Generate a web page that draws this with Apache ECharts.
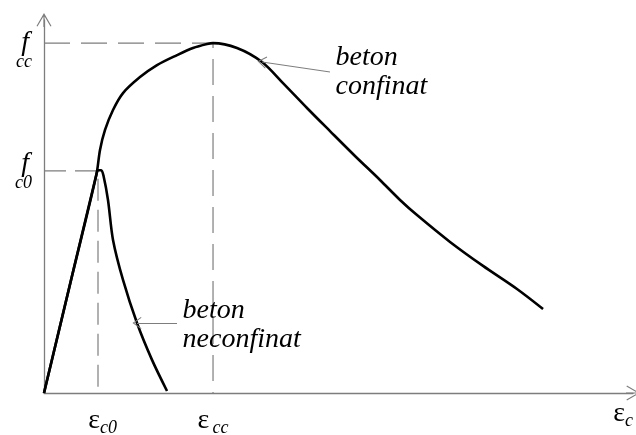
<!DOCTYPE html>
<html>
<head>
<meta charset="utf-8">
<script src="https://cdn.jsdelivr.net/npm/echarts@6/dist/echarts.min.js"></script>
<style>
  html, body { margin: 0; padding: 0; background: #ffffff; }
  #chart { width: 636px; height: 435px; }
</style>
</head>
<body>
<div id="chart"></div>
<script>
// Stress–strain curves of confined and unconfined concrete.
// Strain in units of eps_c0, stress in units of f_c0.
const epsC0 = 1.0;
const epsCC = 3.13;
const fC0 = 1.0;
const fCC = 1.575;
const strainMax = 10.907;
const stressMax = 1.679;

// confined concrete ("beton confinat")
const confinedStrain = [0, 0.502, 0.969, 1.037, 1.130, 1.278, 1.463, 1.778, 2.093, 2.463, 2.759, 3.019, 3.130,
  3.574, 4.037, 4.426, 4.870, 5.296, 5.759, 6.222, 6.593, 6.907, 7.519, 8.130, 8.759, 9.241];
const confinedStress = [0, 0.509, 0.981, 1.094, 1.184, 1.274, 1.350, 1.422, 1.476, 1.521, 1.553, 1.571, 1.575,
  1.553, 1.490, 1.395, 1.283, 1.179, 1.067, 0.959, 0.869, 0.801, 0.680, 0.572, 0.468, 0.378];

// unconfined concrete ("beton neconfinat")
const unconfinedStrain = [0, 0.981, 1.0, 1.06, 1.10, 1.185, 1.278, 1.463, 1.722, 2.0, 2.278];
const unconfinedStress = [0, 0.995, 1.003, 1.003, 0.98, 0.869, 0.689, 0.509, 0.315, 0.149, 0.009];

// axis labels
const strainTicks = [epsC0, epsCC];
const strainTickLabels = ['{E|ε}{s|c0}', '{e|ε} {s|cc}'];
const stressTicks = [fC0, fCC];
const stressTickLabels = ['{f|f}\n{s|c0}', '{g| }\n{f|f}\n{s|cc}'];
const strainAxisName = '{e|ε}{s|c}';

// curve captions: [text, text position, arrow tail, arrow tip on the curve]
const confinedCaption = ['beton\nconfinat', [5.389, 1.445], [5.296, 1.445], [4.037, 1.490]];
const unconfinedCaption = ['beton\nneconfinat', [2.556, 0.306], [2.463, 0.315], [1.722, 0.315]];

const zip = (xs, ys) => xs.map((x, i) => [x, ys[i]]);

const axisGray = '#7d7d7d';
const serif = '"Liberation Serif", "DejaVu Serif", serif';
// open arrowhead with a central stem, tip at the top
const axisArrow = 'path://M7.5,0 L15,13 L14,13.6 L8.1,3.4 L8.1,14 L6.9,14 L6.9,3.4 L1,13.6 L0,13 Z';
const openArrow = 'path://M6,0 L12,9 L11.2,9.6 L6,1.8 L0.8,9.6 L0,9 Z';

const richX = {
  e: { fontFamily: serif, fontSize: 28, color: '#000', lineHeight: 30 },
  E: { fontFamily: serif, fontSize: 28, color: '#000', lineHeight: 30, padding: [0, 0, 0, 9] },
  s: { fontFamily: serif, fontStyle: 'italic', fontSize: 18, color: '#000', lineHeight: 30, padding: [14, 0, 0, 0] }
};
const richY = {
  f: { fontFamily: serif, fontStyle: 'italic', fontSize: 28, color: '#000', lineHeight: 24, padding: [0, 3, 0, 0] },
  g: { fontFamily: serif, fontSize: 10, lineHeight: 14 },
  s: { fontFamily: serif, fontStyle: 'italic', fontSize: 18, color: '#000', lineHeight: 14 }
};

function caption(c) {
  return {
    silent: true,
    symbol: 'circle',
    symbolSize: 1,
    itemStyle: { color: 'rgba(0,0,0,0)' },
    label: {
      show: true,
      position: 'right',
      distance: 0,
      formatter: c[0],
      fontFamily: serif,
      fontStyle: 'italic',
      fontSize: 28,
      lineHeight: 29,
      color: '#000',
      align: 'left'
    },
    data: [{ coord: c[1] }]
  };
}
function pointer(c) {
  return {
    silent: true,
    symbol: ['none', openArrow],
    symbolSize: [12, 9],
    lineStyle: { color: axisGray, width: 1, type: 'solid' },
    label: { show: false },
    data: [[{ coord: c[2] }, { coord: c[3] }]]
  };
}

const chart = echarts.init(document.getElementById('chart'), null, { renderer: 'canvas' });
chart.setOption({
  animation: false,
  backgroundColor: '#ffffff',
  grid: { left: 44, right: 3, top: 20, bottom: 42, containLabel: false, outerBoundsMode: 'none' },
  xAxis: {
    type: 'value',
    min: 0,
    max: strainMax,
    splitLine: { show: false },
    axisTick: { show: false },
    axisLine: {
      lineStyle: { color: axisGray, width: 1.3 },
      symbol: ['none', axisArrow],
      symbolSize: [15, 14]
    },
    axisLabel: {
      customValues: strainTicks,
      margin: 13,
      formatter: v => strainTickLabels[strainTicks.indexOf(v)] || '',
      rich: richX
    },
    name: strainAxisName,
    nameLocation: 'end',
    nameGap: 0,
    nameTextStyle: { align: 'right', verticalAlign: 'top', padding: [6, 0, 0, 0], rich: richX }
  },
  yAxis: {
    type: 'value',
    min: 0,
    max: stressMax,
    splitLine: { show: false },
    axisTick: { show: false },
    axisLine: {
      lineStyle: { color: axisGray, width: 1.3 },
      symbol: ['none', axisArrow],
      symbolSize: [15, 14]
    },
    axisLabel: {
      customValues: stressTicks,
      margin: 12,
      align: 'right',
      formatter: v => stressTickLabels[stressTicks.indexOf(v)] || '',
      rich: richY
    }
  },
  series: [
    {
      type: 'line',
      silent: true,
      symbol: 'none',
      lineStyle: { color: axisGray, width: 1.2, type: [26, 11] },
      data: [[0, fCC], [epsCC, fCC], [epsCC, 0]]
    },
    {
      type: 'line',
      silent: true,
      symbol: 'none',
      lineStyle: { color: axisGray, width: 1.2, type: [22, 9] },
      data: [[0, fC0], [epsC0, fC0], [epsC0, 0]]
    },
    {
      type: 'line',
      name: 'beton confinat',
      silent: true,
      symbol: 'none',
      smooth: 0.3,
      lineStyle: { color: '#000', width: 2.6, join: 'round' },
      data: zip(confinedStrain, confinedStress),
      markPoint: caption(confinedCaption),
      markLine: pointer(confinedCaption)
    },
    {
      type: 'line',
      name: 'beton neconfinat',
      silent: true,
      symbol: 'none',
      smooth: 0.3,
      lineStyle: { color: '#000', width: 2.6, join: 'round' },
      data: zip(unconfinedStrain, unconfinedStress),
      markPoint: caption(unconfinedCaption),
      markLine: pointer(unconfinedCaption)
    }
  ]
});
</script>
</body>
</html>
